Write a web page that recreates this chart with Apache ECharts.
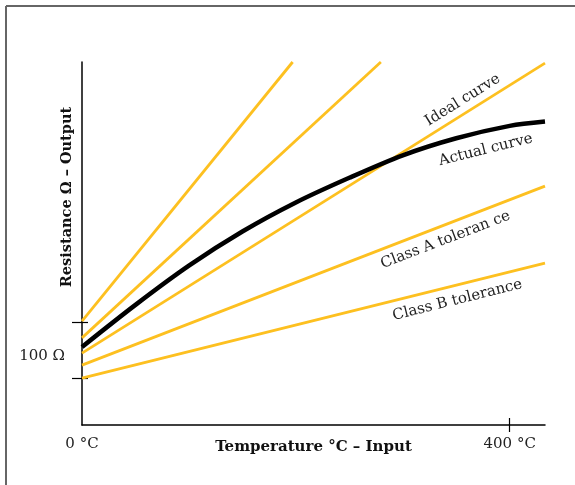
<!DOCTYPE html>
<html>
<head>
<meta charset="utf-8">
<script src="https://cdn.jsdelivr.net/npm/echarts@6/dist/echarts.min.js"></script>
<style>
html,body{margin:0;padding:0;background:#fff;}
#c{width:575px;height:485px;}
</style>
</head>
<body>
<div id="c"></div>
<script>
// Temperature (°C) on x, relative resistance (arbitrary units 0–100) on y
const xMax = 433;
const yMax = 100;
const line1 = [[0, 28.6], [197, 100]];
const line2 = [[0, 24.0], [279.5, 100]];
const idealCurve = [[0, 19.8], [433, 99.7]];
const classA = [[0, 16.5], [433, 65.8]];
const classB = [[0, 12.9], [433, 44.6]];
const actualCurve = [[0, 21.5], [50, 33.1], [100, 43.9], [150, 53.3], [200, 61.3], [250, 68.1], [300, 74.3], [350, 79.0], [400, 82.4], [433, 83.6]];
const yTickValues = [12.9, 28.4];
const yLabelValue = [19];
const yLabelText = '100 Ω';
const xLabelValues = [0, 400];
const xTickValues = [400];
const xTitle = 'Temperature °C – Input';
const yTitle = 'Resistance Ω – Output';
const curveLabels = [
  {text: 'Ideal curve', x: 356, y: 89.5, angle: 32},
  {text: 'Actual curve', x: 377.6, y: 75.8, angle: 14},
  {text: 'Class A toleran ce', x: 340, y: 51, angle: 21},
  {text: 'Class B tolerance', x: 351, y: 34.4, angle: 14}
];

const FONT = '"DejaVu Serif", "Liberation Serif", serif';
const YEL = '#FDC020';
const chart = echarts.init(document.getElementById('c'), null, {renderer: 'canvas'});

const axisLineStyle = {color: '#000', width: 1.5};
const option = {
  animation: false,
  backgroundColor: '#fff',
  grid: {left: 82, right: 30, top: 62, bottom: 60},
  xAxis: [
    {
      type: 'value', min: 0, max: xMax,
      axisLine: {show: true, lineStyle: axisLineStyle},
      axisTick: {show: true, customValues: xTickValues, length: 7, lineStyle: {color: '#000', width: 1.2}},
      axisLabel: {show: true, customValues: xLabelValues, formatter: v => v + ' °C', margin: 12,
        fontFamily: FONT, fontSize: 15, color: '#222'},
      splitLine: {show: false},
      name: xTitle, nameLocation: 'middle', nameGap: 15, nameMoveOverlap: false,
      nameTextStyle: {fontFamily: FONT, fontWeight: 'bold', fontSize: 15, color: '#111'}
    },
    {
      type: 'value', min: 0, max: xMax, position: 'bottom',
      axisLine: {show: false},
      axisTick: {show: true, inside: true, customValues: xTickValues, length: 7, lineStyle: {color: '#000', width: 1.2}},
      axisLabel: {show: false},
      splitLine: {show: false}
    }
  ],
  yAxis: [
    {
      type: 'value', min: 0, max: yMax,
      axisLine: {show: true, lineStyle: axisLineStyle},
      axisTick: {show: true, customValues: yTickValues, length: 10, lineStyle: {color: '#000', width: 1.2}},
      axisLabel: {show: true, customValues: yLabelValue, formatter: () => yLabelText, margin: 17,
        fontFamily: FONT, fontSize: 15, color: '#222'},
      splitLine: {show: false}
    },
    {
      type: 'value', min: 0, max: yMax, position: 'left',
      axisLine: {show: false},
      axisTick: {show: true, inside: true, customValues: yTickValues, length: 6, lineStyle: {color: '#000', width: 1.2}},
      axisLabel: {show: false},
      splitLine: {show: false}
    }
  ],
  series: [
    ...[line1, line2, idealCurve, classA, classB].map(d => ({
      type: 'line', data: d, showSymbol: false, silent: true,
      lineStyle: {color: YEL, width: 2.8}, z: 2
    })),
    {type: 'line', data: actualCurve, showSymbol: false, smooth: 0.3, silent: true,
      lineStyle: {color: '#000', width: 4.5}, z: 3}
  ],
  graphic: []
};
chart.setOption(option);

const g = [
  {type: 'line', shape: {x1: 6, y1: 6, x2: 575, y2: 6}, style: {stroke: '#666', lineWidth: 2}},
  {type: 'line', shape: {x1: 6, y1: 6, x2: 6, y2: 485}, style: {stroke: '#666', lineWidth: 2}},
  {type: 'text', x: 67, y: 197, rotation: Math.PI / 2,
    style: {text: yTitle, font: 'bold 14.5px ' + FONT, fill: '#111', align: 'center', verticalAlign: 'middle'}}
];
curveLabels.forEach(l => {
  const p = chart.convertToPixel({gridIndex: 0}, [l.x, l.y]);
  g.push({type: 'text', x: p[0], y: p[1], rotation: l.angle * Math.PI / 180,
    style: {text: l.text, font: '15px ' + FONT, fill: '#222', align: 'center', verticalAlign: 'middle'}});
});
chart.setOption({graphic: g});
</script>
</body>
</html>
